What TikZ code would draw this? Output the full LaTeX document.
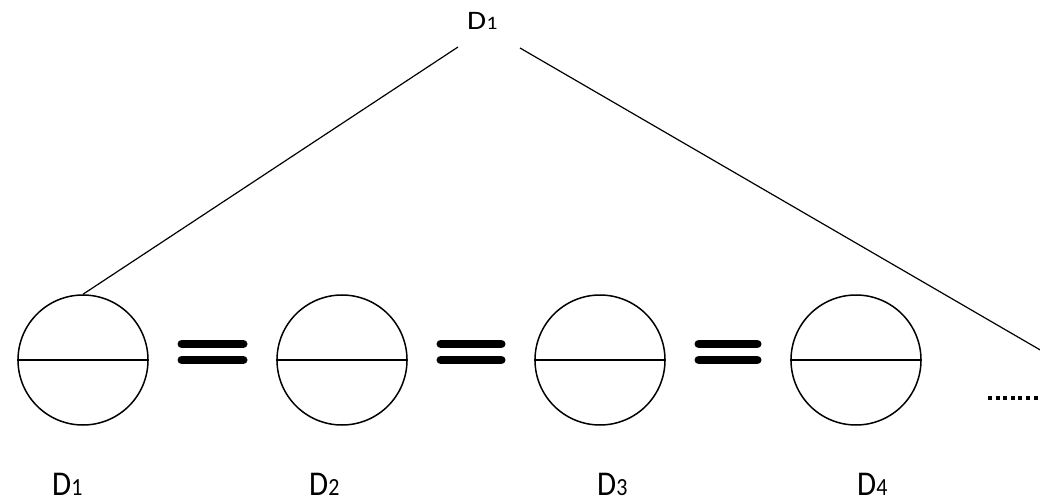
\documentclass[tikz,border=0pt]{standalone}
\usepackage{fontspec}
\setmainfont{Carlito}
\newcommand{\lbl}[1]{D{\fontsize{22}{24}\selectfont #1}}
\begin{document}
\begin{tikzpicture}[x=1pt,y=-1pt,
  ring/.style={circle,draw,line width=1.5pt,minimum size=130pt,inner sep=0pt},
  tag/.style={font=\fontsize{31}{34}\selectfont,inner sep=0pt,anchor=base west},
  link/.style={line width=1.2pt},
  bar/.style={line width=8.5pt,line cap=round}]
\useasboundingbox (0,0) rectangle (1040,502);
\node[tag] (top) at (467,29.5) {\scalebox{1}[0.86]{\lbl{1}}};
\coordinate (tl) at (458,47);
\coordinate (tr) at (520,48);
\coordinate (edge) at (1042,351);
\foreach \i/\x in {1/83,2/342,3/600,4/856}{
  \node[ring] (c\i) at (\x,360) {};
  \draw[line width=1.5pt] (c\i.west) -- (c\i.east);
}
\node[tag] (b1) at (52,495) {\scalebox{1}[1.12]{\lbl{1}}};
\node[tag] (b2) at (309,495) {\scalebox{1}[1.12]{\lbl{2}}};
\node[tag] (b3) at (597,495) {\scalebox{1}[1.12]{\lbl{3}}};
\node[tag] (b4) at (857,495) {\scalebox{1}[1.12]{\lbl{4}}};
\draw[link] (tl) -- (c1.north);
\draw[link] (tr) -- (edge);
\foreach \a/\b in {1/2,2/3,3/4}{
  \draw[bar] ([xshift=33pt]c\a.east) -- ([xshift=-33pt]c\b.west);
  \draw[bar] ([xshift=33pt,yshift=16pt]c\a.east) -- ([xshift=-33pt,yshift=16pt]c\b.west);
}
\coordinate (d0) at (988,398);
\coordinate (d1) at (1042,398);
\draw[line width=4pt,dash pattern=on 4pt off 3.6pt] (d0) -- (d1);
\end{tikzpicture}
\end{document}
